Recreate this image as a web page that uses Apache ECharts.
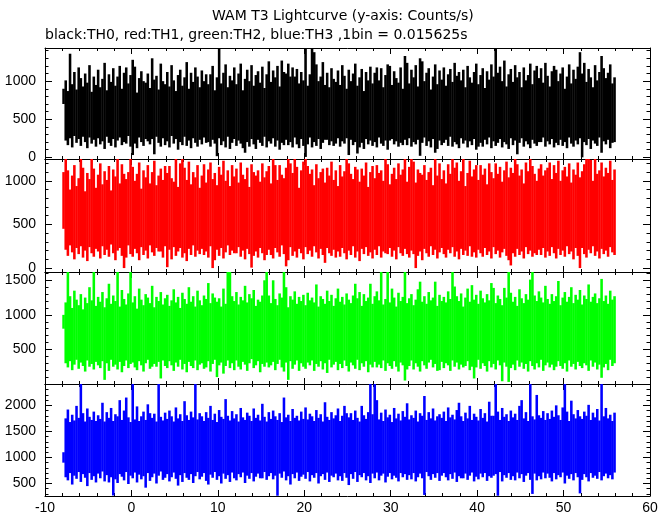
<!DOCTYPE html>
<html><head><meta charset="utf-8">
<script src="https://cdn.jsdelivr.net/npm/echarts@6/dist/echarts.min.js"></script>
<style>html,body{margin:0;padding:0;background:#fff}#c{width:672px;height:515px}</style>
</head><body><div id="c"></div>
<script>
const titleText = 'WAM T3 Lightcurve (y-axis: Counts/s)';
const subtitleText = 'black:TH0, red:TH1, green:TH2, blue:TH3 ,1bin = 0.015625s';
const binStart = -8;     // first sample time (s)
const binStep = 0.25;    // sample width (s) of the envelope arrays

// TH0 (black) envelope: per-sample maximum and minimum counts/s
const th0Hi = [900,1010,870,1360,960,1120,890,1180,1040,930,1100,980,1210,860,1060,950,
1150,920,1030,1240,880,1090,990,1170,940,1060,1200,900,1110,1180,970,1080,
1280,1190,850,1040,1130,1000,980,1100,910,1300,1020,1070,890,1230,1000,960,
1120,930,1210,1010,870,1080,1150,940,1050,1250,900,1110,990,1180,1060,920,
1140,1000,1090,960,1090,1200,880,1050,1435,970,1110,1220,920,1070,1010,1180,
960,1100,1230,880,1030,1150,1000,1210,940,1080,1130,980,1190,910,1090,1260,
990,1140,1050,1200,930,1270,1120,1100,1230,1060,1180,1060,1160,970,1120,1010,
1435,940,1090,1435,1380,1220,1000,1060,1250,950,1110,920,1170,1030,990,1140,
950,1210,1070,900,1150,1000,1100,1230,940,1050,1160,870,1120,1010,1190,970,
1110,1180,1010,1170,920,1080,1220,1200,950,1130,1040,980,1180,900,1330,1240,
970,1150,1050,1210,930,1300,1260,1000,1110,1170,890,1060,1220,960,1140,1020,
1180,940,1090,1160,990,1240,1070,1120,1010,1150,920,1200,1050,980,1120,1230,
960,1080,1170,910,1130,1020,1220,1060,1435,1110,1190,1000,1270,930,1090,1160,
990,1210,1050,1120,920,1180,1010,1080,1230,960,1140,1200,1040,1170,980,1240,
1070,930,1130,1200,1150,1000,1100,1180,900,1060,1220,970,1150,1030,1190,1380,
1100,1240,990,1160,1050,920,1210,1010,1120,1330,1170,1040,1110,1220,970,1050];
const th0Lo = [700,220,160,250,130,280,190,240,150,270,200,120,260,180,230,140,
250,170,210,110,270,190,150,240,130,220,260,160,200,180,280,140,
30,180,120,260,200,150,240,210,170,240,40,270,190,140,250,160,
210,130,280,180,240,100,200,160,270,150,220,120,250,190,140,230,
170,260,190,200,140,230,180,15,250,160,210,130,270,110,190,240,
150,220,180,120,60,200,140,240,170,110,230,190,150,270,130,210,
180,250,140,220,100,190,160,230,160,200,130,260,170,120,240,150,
5,170,260,130,200,150,240,110,190,230,230,160,210,150,180,250,
140,210,180,250,30,230,160,200,50,130,190,110,240,170,220,150,
200,130,260,180,150,220,100,220,240,170,210,140,190,160,230,160,
250,140,200,170,230,20,190,260,150,210,130,240,60,110,220,160,
190,230,150,270,140,200,170,120,250,180,220,130,210,160,240,100,
140,190,140,230,170,260,120,210,150,190,240,130,200,170,110,250,
160,220,40,190,250,140,210,170,120,230,180,150,200,200,260,140,
210,170,240,130,190,160,230,150,200,120,260,180,140,220,170,250,
0,200,160,240,110,220,180,150,260,60,210,170,230,120,190,200];

// TH1 (red)
const th1Hi = [1100,1250,1120,900,1060,1180,940,1030,1250,1150,880,1090,1020,1250,1140,920,
1070,1200,960,1110,1010,1170,890,1130,1050,1250,970,1190,1080,1020,1100,1250,
1160,1000,1080,1210,910,1120,1040,1180,970,1100,1230,950,1060,1140,1010,1170,
1090,1170,1030,990,1250,930,1200,1250,1150,1010,1220,960,1100,1040,1180,920,
1060,1190,980,1130,1210,1020,1090,950,1160,1070,1230,1000,1120,940,1180,1050,
1140,980,1210,1070,1020,1150,930,1190,1100,1060,1120,990,1200,1040,1110,1170,
970,1250,1180,1010,1180,1070,1030,1150,1250,1200,1090,1250,1160,920,1120,1220,
1250,1170,1080,1130,950,1190,1030,1100,1140,980,1150,1060,1220,1010,1120,940,
1180,1050,1110,1250,1200,1080,1020,1160,1130,990,1140,1060,1210,930,1100,1170,
1030,1180,1090,1120,1000,1250,1190,960,1080,1150,1020,1200,1070,1130,1250,990,
1160,1250,1220,980,1130,1090,1070,1180,1010,1100,1150,950,1250,1060,1200,1020,
1120,970,1190,1080,1250,1150,1210,1000,1110,1250,940,1090,1230,1050,1130,1180,
1010,1180,1070,1140,960,1200,1100,1030,1200,1080,1160,990,1120,1220,1040,1150,
1090,1250,1190,1060,1130,970,1210,1110,1250,1170,1080,1000,1140,1190,1060,1120,
1150,1210,1020,1180,1090,1230,1000,1120,1160,1050,1200,980,1130,1070,1210,1040,
1110,1190,1250,1250,1240,1000,1250,1080,1120,1210,1050,1150,1090,1230,1010,1130];
const th1Lo = [450,210,140,260,180,100,230,160,250,120,200,80,240,170,130,220,
190,110,250,150,210,130,270,170,90,200,230,140,0,120,260,160,
130,220,170,90,240,150,200,110,260,180,140,230,190,190,120,250,
10,210,100,240,140,190,230,120,170,80,220,150,260,130,200,160,
220,150,190,120,250,0,90,210,140,230,110,180,260,150,200,170,
170,240,130,200,100,220,160,5,140,190,120,230,170,90,150,210,
150,110,230,180,130,260,160,20,90,240,140,190,120,220,170,100,
240,160,200,130,250,180,110,220,150,60,230,170,140,210,120,190,
130,230,170,100,200,150,250,120,190,80,220,160,240,140,180,110,
210,150,250,120,190,170,160,230,130,200,100,240,170,140,220,160,
120,200,160,0,140,190,90,220,170,130,250,150,210,110,180,230,
160,120,210,170,240,130,190,100,220,150,200,140,250,130,180,120,
210,170,130,230,150,190,110,240,160,200,120,180,220,140,90,30,
170,130,220,150,190,110,240,160,200,130,170,150,210,150,230,120,
190,140,240,170,110,220,150,200,130,250,160,190,100,230,140,0,
230,160,120,210,170,250,140,190,110,220,160,200,130,240,180,150];

// TH2 (green)
const th2Hi = [1000,1180,1620,1270,1100,1350,1220,1140,1300,1080,1250,1170,1400,1210,1620,1130,
1260,1190,1330,1110,1240,1450,1160,1280,1200,1620,1120,1360,1230,1150,1310,1620,
1180,1270,1090,1380,1220,1140,1300,1250,1170,1420,1110,1260,1200,1330,1150,1240,
1290,1130,1210,1370,1180,1260,1100,1320,1230,1160,1400,1190,1270,1120,1350,1210,
1140,1280,1230,1460,1170,1310,1250,1190,1240,1120,1380,1160,1620,1620,1270,1200,
1330,1150,1260,1210,1420,1180,1300,1240,1360,1130,1220,1190,1280,1500,1620,1280,
1170,1500,1230,1140,1310,1250,1620,1400,1110,1270,1220,1340,1160,1260,1200,1290,
1140,1320,1210,1250,1180,1440,1120,1270,1230,1160,1350,1200,1290,1130,1240,1380,
1190,1260,1150,1310,1220,1170,1280,1450,1240,1330,1130,1300,1200,1250,1450,1160,
1270,1340,1210,1620,1150,1230,1620,1180,1380,1250,1120,1320,1200,1260,1620,1170,
1240,1300,1140,1220,1370,1480,1190,1270,1160,1330,1210,1250,1480,1130,1290,1200,
1260,1180,1340,1230,1620,1410,1270,1200,1310,1120,1250,1380,1190,1430,1220,1290,
1160,1350,1240,1180,1300,1210,1460,1390,1170,1280,1230,1140,1390,1250,1620,1320,
1190,1260,1130,1370,1240,1170,1300,1220,1510,1620,1280,1200,1340,1250,1180,1420,
1230,1160,1300,1200,1270,1490,1140,1250,1330,1190,1260,1400,1170,1290,1220,1360,
1150,1280,1230,1440,1190,1260,1310,1170,1240,1520,1200,1280,1160,1350,1220,1270];
const th2Lo = [800,300,240,330,200,280,350,220,310,260,180,340,250,290,210,320,
270,230,330,60,300,190,350,250,280,210,320,170,260,340,230,290,
310,240,200,330,270,180,300,350,220,250,290,250,320,80,340,260,
230,330,270,190,310,250,350,210,290,170,320,260,230,340,200,280,
300,220,240,330,180,290,350,100,270,310,150,260,340,230,300,200,
340,250,210,320,280,190,300,360,230,270,330,170,290,250,310,240,
270,320,200,290,350,240,180,310,60,330,220,280,340,190,300,250,
220,310,270,340,190,290,250,330,210,300,160,350,240,280,320,200,
290,230,340,260,180,310,270,220,350,200,300,250,330,170,280,240,
320,240,280,230,340,190,300,260,220,330,250,180,310,270,50,210,
260,340,210,300,250,180,330,270,220,310,350,240,290,190,200,320,
230,300,270,190,340,250,310,210,280,240,260,330,200,250,80,240,
350,220,300,260,180,330,240,290,210,340,270,40,310,250,30,230,
280,200,340,250,310,220,290,180,330,260,210,300,240,350,190,270,
310,240,280,200,250,330,260,220,300,180,340,250,290,210,320,260,
230,300,270,190,340,250,310,210,280,90,240,290,200,350,260,300];

// TH3 (blue)
const th3Hi = [1100,1750,1920,1680,1820,1710,1990,1760,2410,1850,1690,1940,1780,1720,1880,1700,
1810,1740,2050,1690,1870,1760,1950,1700,1830,1790,2100,1720,1900,2150,1770,1680,
2410,1730,1980,1700,1790,1880,1720,2020,1850,1760,1840,1690,2410,1780,1710,1860,
1740,1900,1790,1690,1960,1750,1830,1700,2080,1810,1720,1880,1770,2410,1730,1850,
1790,1700,1870,1760,1990,1720,1840,1680,1910,1780,1740,2120,1800,1710,1890,1750,
1830,1690,1950,1770,1720,1860,1800,1700,1940,1760,1820,1710,2030,1780,1690,1870,
1740,1900,1790,1720,1850,1680,2150,1770,1820,1700,1930,1760,1800,1710,1880,1740,
1960,1730,1840,1790,1700,1910,1760,1830,1690,2060,1780,1720,1870,1750,1810,1940,
1700,1800,1990,1850,1770,1850,1720,1900,1760,1690,1990,1810,1740,1870,2410,1830,
2410,2100,1730,1860,1700,1920,1770,1820,1680,1950,1750,1840,1710,1890,1780,2040,
1730,1810,1760,1900,1690,1850,1800,2180,1720,1870,1750,1940,1710,1790,1830,1760,
1880,1700,1960,1770,1820,1730,1910,2050,1790,1700,1860,1750,1990,1720,1840,1780,
1710,1930,1760,1850,1690,2070,1800,1800,2410,1880,1720,1950,1780,1830,1700,1900,
1770,1840,1720,1990,2100,1750,1870,1700,2410,1790,1730,2200,1810,1760,1890,1720,
1850,1740,1900,1780,2000,1810,1720,1960,2410,1880,1700,2090,1830,1750,1910,1790,
1740,1880,1800,2010,1720,1860,1770,1930,1710,2410,1790,1950,1750,1820,1700,1860];
const th3Lo = [900,620,560,700,480,650,590,720,530,680,610,450,700,570,640,520,
690,600,730,540,660,520,620,270,580,510,680,630,560,720,490,650,
600,710,520,670,580,640,420,700,550,620,690,500,650,730,570,610,
680,540,620,710,590,460,660,530,700,610,570,680,510,640,720,580,
630,700,550,480,670,610,720,570,640,500,690,590,660,530,710,600,
560,680,620,710,510,650,590,700,540,630,690,600,600,720,570,640,
700,580,650,265,690,610,730,560,640,480,680,600,710,550,630,670,
590,720,540,660,610,700,500,640,680,570,710,530,650,620,690,560,
640,550,700,610,470,680,590,720,530,660,620,700,560,640,510,690,
600,710,560,650,690,520,630,700,580,650,610,540,700,620,680,570,
660,580,700,540,620,690,600,280,720,640,570,680,610,700,550,650,
700,620,560,680,590,710,530,640,600,600,690,570,650,710,540,630,
580,690,620,700,550,640,610,650,680,265,720,540,660,610,700,570,
640,560,710,600,680,530,650,700,570,300,690,560,640,580,710,600,
690,610,540,700,580,660,620,710,500,650,590,680,560,700,620,310,
570,680,620,540,700,610,650,590,720,560,640,690,600,660,580,710];

// axis ranges per panel
const yMins = [-22, -45, 0, 260];
const yMaxs = [1435, 1250, 1620, 2410];
const ySplits = [3, 3, 3, 4];
const xMin = -10, xMax = 60, xStep = 10;

// layout / style (kept apart from data)
const gridTops = [48, 159, 272, 384];
const gridHeights = [111, 113, 112, 112];
const colors = ['#000000', '#ff0000', '#00ff00', '#0000ff'];
const FONT = 'Liberation Sans';
const TITLE_FONT = 'DejaVu Sans';

const series = [[th0Lo, th0Hi], [th1Lo, th1Hi], [th2Lo, th2Hi], [th3Lo, th3Hi]];

function makeRender(color) {
  return function (params, api) {
    const t = api.value(0), lo = api.value(1), hi = api.value(2);
    const a = api.coord([t, hi]);
    const b = api.coord([t + binStep, lo]);
    return {
      type: 'rect',
      shape: { x: a[0], y: a[1], width: b[0] - a[0] + 0.4, height: b[1] - a[1] },
      style: { fill: color }
    };
  };
}

const axisLineStyle = { show: true, onZero: false, lineStyle: { color: '#000', width: 1 } };
const grids = [], xAxes = [], yAxes = [], seriesOpts = [];
for (let g = 0; g < 4; g++) {
  grids.push({ left: 45, right: 22, top: gridTops[g], height: gridHeights[g], containLabel: false });
  ['bottom', 'top'].forEach(function (pos) {
    xAxes.push({
      type: 'value', gridIndex: g, position: pos, min: xMin, max: xMax, interval: xStep,
      axisLine: axisLineStyle,
      axisTick: { show: true, inside: true, length: 6, lineStyle: { color: '#000' } },
      minorTick: { show: true, splitNumber: 5, length: 3, lineStyle: { color: '#000' } },
      splitLine: { show: false },
      axisLabel: { show: g === 3 && pos === 'bottom', margin: 5, fontSize: 14, color: '#000', fontFamily: FONT }
    });
  });
  ['left', 'right'].forEach(function (pos) {
    yAxes.push({
      type: 'value', gridIndex: g, position: pos, min: yMins[g], max: yMaxs[g], splitNumber: ySplits[g],
      axisLine: axisLineStyle,
      axisTick: { show: true, inside: true, length: 7, lineStyle: { color: '#000' } },
      minorTick: { show: true, splitNumber: 5, length: 3.5, lineStyle: { color: '#000' } },
      splitLine: { show: false },
      axisLabel: {
        show: pos === 'left', margin: 9, fontSize: 14, color: '#000', fontFamily: FONT,
        showMinLabel: false, showMaxLabel: false,
        formatter: function (v) { return v % 500 === 0 ? String(v) : ''; }
      }
    });
  });
  const lo = series[g][0], hi = series[g][1];
  seriesOpts.push({
    type: 'custom', xAxisIndex: 2 * g, yAxisIndex: 2 * g, clip: true, silent: true,
    renderItem: makeRender(colors[g]),
    encode: { x: 0, y: [1, 2] },
    data: hi.map(function (h, i) { return [binStart + i * binStep, lo[i], h]; })
  });
}

const chart = echarts.init(document.getElementById('c'), null, { renderer: 'canvas' });
chart.setOption({
  animation: false,
  backgroundColor: '#fff',
  title: [
    { text: titleText, left: 212, top: 9, padding: 0,
      textStyle: { fontSize: 14, fontWeight: 'normal', color: '#000', fontFamily: TITLE_FONT } },
    { text: subtitleText, left: 45, top: 28, padding: 0,
      textStyle: { fontSize: 14, fontWeight: 'normal', color: '#000', fontFamily: TITLE_FONT } }
  ],
  grid: grids,
  xAxis: xAxes,
  yAxis: yAxes,
  series: seriesOpts
});
</script>
</body></html>
